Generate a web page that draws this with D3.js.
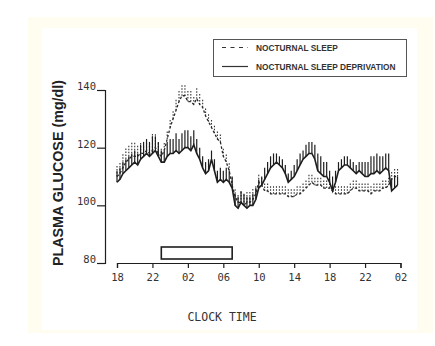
<!DOCTYPE html>
<html>
<head>
<meta charset="utf-8">
<script src="https://cdn.jsdelivr.net/npm/d3@7"></script>
<style>
  body { margin: 0; background: #fff; }
  svg { display: block; }
</style>
</head>
<body>
<div id="chart"></div>
<script>
// Samples every 20 min, from 18:00 (h=18) to 01:40 next-next night (h=49.67)
const startHour = 18;
const stepHours = 1 / 3;

// Nocturnal sleep deprivation (solid): mean and SEM, three values per hour
const sdMean = [
  108, 109, 111,  112, 113, 114,  115, 114, 116,  117, 118, 117,
  118, 119, 117,  115, 115, 117,  118, 118, 119,  118, 119, 120,
  120, 119, 121,  118, 116, 113,  111, 112, 116,  112, 108, 109,
  108, 109, 108,  106, 100, 99,   101, 100, 99,   100, 100, 102,
  106, 107, 109,  111, 113, 114,  115, 114, 113,  111, 108, 109,
  110, 112, 114,  116, 117, 118,  118, 116, 112,  111, 110, 110,
  108, 105, 108,  112, 113, 114,  114, 113, 112,  111, 112, 111,
  110, 110, 111,  111, 112, 111,  112, 113, 112,  105, 106, 107
];
const sdSem = [
  4, 4, 4,  4, 4, 4,  4, 4, 5,  5, 5, 5,
  6, 5, 5,  4, 4, 5,  5, 5, 6,  5, 6, 6,
  6, 5, 5,  5, 4, 4,  4, 4, 3,  4, 4, 4,
  4, 4, 4,  4, 4, 4,  4, 4, 4,  3, 4, 4,
  3, 3, 4,  4, 4, 4,  3, 3, 3,  3, 3, 3,
  4, 4, 4,  3, 4, 4,  4, 5, 6,  6, 5, 5,
  4, 5, 4,  3, 3, 3,  3, 3, 3,  3, 3, 4,
  5, 5, 6,  6, 6, 6,  5, 5, 6,  4, 4, 3
];

// Nocturnal sleep (dashed): mean and SEM
const nsMean = [
  110, 111, 113,  115, 116, 117,  117, 117, 118,  118, 119, 118,
  119, 120, 118,  117, 119, 123,  127, 130, 133,  136, 138, 138,
  136, 136, 135,  137, 135, 134,  131, 129, 127,  125, 123, 122,
  117, 115, 112,  107, 103, 101,  101, 100, 101,  101, 102, 104,
  108, 107, 105,  105, 104, 104,  104, 104, 104,  104, 103, 103,
  103, 104, 104,  105, 106, 107,  108, 107, 107,  107, 106, 106,
  106, 105, 104,  104, 104, 104,  104, 105, 106,  106, 105, 105,
  105, 105, 104,  105, 105, 105,  106, 106, 107,  109, 110, 110
];
const nsSem = [
  4, 4, 5,  5, 5, 5,  5, 4, 4,  3, 3, 3,
  6, 5, 4,  3, 3, 3,  3, 3, 4,  4, 4, 4,
  4, 4, 3,  4, 4, 3,  3, 3, 3,  3, 3, 3,
  3, 3, 3,  3, 3, 3,  4, 4, 4,  4, 4, 3,
  3, 3, 3,  3, 3, 3,  3, 3, 3,  3, 3, 3,
  3, 3, 3,  3, 3, 4,  3, 3, 3,  3, 3, 3,
  3, 3, 3,  3, 3, 3,  3, 3, 3,  3, 3, 3,
  3, 3, 3,  3, 3, 3,  3, 3, 3,  3, 3, 3
];

const yTicks = [80, 100, 120, 140];
const xTickHours = [18, 22, 26, 30, 34, 38, 42, 46, 50];
const xTickLabels = ['18', '22', '02', '06', '10', '14', '18', '22', '02'];
const sleepPeriod = [23, 31];
const legendItems = ['NOCTURNAL SLEEP', 'NOCTURNAL SLEEP DEPRIVATION'];

const width = 435, height = 346;
const ink = '#1e1e1e';
const mono = '"DejaVu Sans Mono", "Liberation Mono", monospace';
const sans = '"Liberation Sans", Arial, sans-serif';

const svg = d3.select('#chart').append('svg')
  .attr('width', width)
  .attr('height', height);

// page background (cream frame + white sheet)
svg.append('rect').attr('x', 28).attr('y', 17).attr('width', 405).attr('height', 316).attr('fill', '#fffdf0');
svg.append('rect').attr('x', 42).attr('y', 28).attr('width', 375).attr('height', 302).attr('fill', '#fff');

const x = d3.scaleLinear().domain([18, 50]).range([117, 400.5]);
const y = d3.scaleLinear().domain([80, 140]).range([263, 90]);

const toPoints = (mean, sem) => mean.map((v, i) => ({ h: startHour + i * stepHours, v, s: sem[i] }));
const sd = toPoints(sdMean, sdSem);
const ns = toPoints(nsMean, nsSem);

// y axis
const yAxis = svg.append('g')
  .attr('transform', 'translate(105,0)')
  .call(d3.axisLeft(y).tickValues(yTicks).tickSize(8).tickPadding(1));
yAxis.select('.domain').attr('stroke', ink).attr('stroke-width', 1.2);
yAxis.selectAll('.tick line').attr('stroke', ink).attr('stroke-width', 1.2);
yAxis.selectAll('.tick text')
  .attr('dy', '-0.05em')
  .attr('font-family', mono).attr('font-size', 10.5).attr('fill', '#333');

// x axis
const xAxis = svg.append('g')
  .attr('transform', 'translate(0,263)')
  .call(d3.axisBottom(x).tickValues(xTickHours).tickSize(5).tickSizeOuter(5).tickPadding(6)
    .tickFormat((d, i) => xTickLabels[i]));
xAxis.select('.domain').attr('stroke', ink).attr('stroke-width', 1.2);
xAxis.selectAll('.tick line').attr('stroke', ink).attr('stroke-width', 1.2);
xAxis.selectAll('.tick text')
  .attr('font-family', mono).attr('font-size', 10.5).attr('fill', '#333');

// sleep period bar
svg.append('rect')
  .attr('x', x(sleepPeriod[0]))
  .attr('y', 247)
  .attr('width', x(sleepPeriod[1]) - x(sleepPeriod[0]))
  .attr('height', 12)
  .attr('fill', '#fff')
  .attr('stroke', ink)
  .attr('stroke-width', 1.6);

// SEM bars
const plot = svg.append('g');
plot.selectAll('line.ns-bar')
  .data(ns)
  .join('line')
  .attr('class', 'ns-bar')
  .attr('x1', d => x(d.h)).attr('x2', d => x(d.h))
  .attr('y1', d => y(d.v)).attr('y2', d => y(d.v + d.s))
  .attr('stroke', '#333').attr('stroke-width', 1.1)
  .attr('stroke-dasharray', '1.5,1.5');

plot.selectAll('line.sd-bar')
  .data(sd)
  .join('line')
  .attr('class', 'sd-bar')
  .attr('x1', d => x(d.h)).attr('x2', d => x(d.h))
  .attr('y1', d => y(d.v)).attr('y2', d => y(d.v + d.s))
  .attr('stroke', ink).attr('stroke-width', 1.2);

const line = d3.line().x(d => x(d.h)).y(d => y(d.v));

plot.append('path')
  .datum(ns)
  .attr('d', line)
  .attr('fill', 'none')
  .attr('stroke', '#2a2a2a')
  .attr('stroke-width', 1.3)
  .attr('stroke-dasharray', '2.5,2');

plot.append('path')
  .datum(sd)
  .attr('d', line)
  .attr('fill', 'none')
  .attr('stroke', ink)
  .attr('stroke-width', 1.6);

// y title
svg.append('text')
  .attr('transform', 'translate(63,173) rotate(-90)')
  .attr('text-anchor', 'middle')
  .attr('font-family', sans)
  .attr('font-weight', 'bold')
  .attr('font-size', 14.3)
  .attr('fill', '#222')
  .text('PLASMA GLUCOSE (mg/dl)');

// x title
svg.append('text')
  .attr('x', 222)
  .attr('y', 321)
  .attr('text-anchor', 'middle')
  .attr('font-family', mono)
  .attr('font-size', 11.5)
  .attr('fill', '#333')
  .text('CLOCK TIME');

// legend
const legend = svg.append('g');
legend.append('rect')
  .attr('x', 213.5).attr('y', 39.5).attr('width', 193).attr('height', 37)
  .attr('fill', '#fff').attr('stroke', '#555').attr('stroke-width', 1);
legend.selectAll('line')
  .data(legendItems)
  .join('line')
  .attr('x1', 222).attr('x2', 248)
  .attr('y1', (d, i) => 47.5 + i * 19).attr('y2', (d, i) => 47.5 + i * 19)
  .attr('stroke', '#333').attr('stroke-width', 1.2)
  .attr('stroke-dasharray', (d, i) => i === 0 ? '4,4.5' : null);
legend.selectAll('text')
  .data(legendItems)
  .join('text')
  .attr('x', 256)
  .attr('y', (d, i) => 50.5 + i * 19)
  .attr('font-family', sans)
  .attr('font-weight', 'bold')
  .attr('font-size', 8.3)
  .attr('fill', '#333')
  .text(d => d);
</script>
</body>
</html>
